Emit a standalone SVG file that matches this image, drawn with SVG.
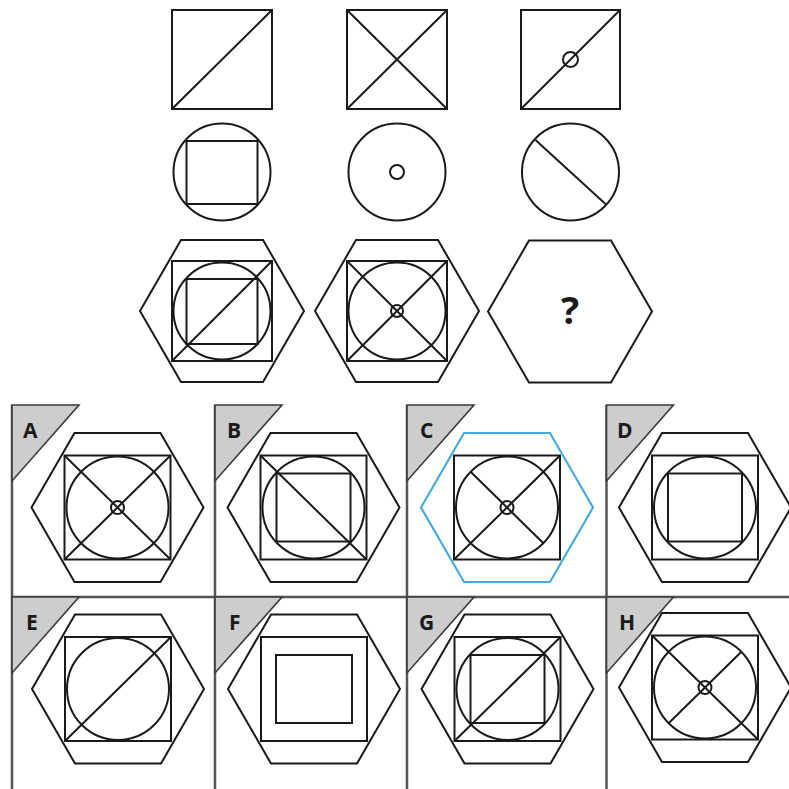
<svg xmlns="http://www.w3.org/2000/svg" width="789" height="789" viewBox="0 0 789 789">
<style>
.s{fill:none;stroke:#1a1a1a;stroke-width:2;stroke-linejoin:miter}
.hc{fill:none;stroke:#45acd8;stroke-width:2.2}
.grid{fill:none;stroke:#555;stroke-width:2.5}
.tri{fill:#cdcdcd;stroke:#3a3a3a;stroke-width:1.6;stroke-linejoin:miter}
.lbl{font-family:"Open Sans","Liberation Sans",sans-serif;font-weight:700;font-size:21px;fill:#1a1a1a}
.q{font-family:"Open Sans","Liberation Sans",sans-serif;font-weight:700;font-size:38px;fill:#1a1a1a}
</style>
<defs>
<polygon id="hexS" points="-82,0 -41,-71 41,-71 82,0 41,71 -41,71"/>
<polygon id="hexA" points="-86,0 -43,-74.5 43,-74.5 86,0 43,74.5 -43,74.5"/>
<polygon id="triA" points="0,0 67,0 0,76"/>
</defs>
<rect width="789" height="789" fill="#fff"/>

<!-- Row 1 -->
<g id="r1c1" class="s" transform="translate(222,59.5)">
<rect x="-50" y="-49.5" width="100" height="99"/>
<line x1="-50" y1="49.5" x2="50" y2="-49.5"/>
</g>
<g id="r1c2" class="s" transform="translate(397,59.5)">
<rect x="-50" y="-49.5" width="100" height="99"/>
<line x1="-50" y1="49.5" x2="50" y2="-49.5"/>
<line x1="-50" y1="-49.5" x2="50" y2="49.5"/>
</g>
<g id="r1c3" class="s" transform="translate(570.5,59.5)">
<rect x="-49.5" y="-49.5" width="99" height="99"/>
<line x1="-49.5" y1="49.5" x2="49.5" y2="-49.5"/>
<circle r="7.5"/>
</g>

<!-- Row 2 -->
<g id="r2c1" class="s" transform="translate(222,172)">
<circle r="48.5"/>
<rect x="-35.5" y="-31" width="71" height="63"/>
</g>
<g id="r2c2" class="s" transform="translate(397,172)">
<circle r="48.5"/>
<circle r="7"/>
</g>
<g id="r2c3" class="s" transform="translate(570.5,172)">
<circle r="48.5"/>
<line x1="-35" y1="-32" x2="35" y2="32"/>
</g>

<!-- Row 3 -->
<g id="r3c1" class="s" transform="translate(222,311)">
<use href="#hexS"/>
<rect x="-50" y="-50" width="100" height="100"/>
<circle r="48.5"/>
<rect x="-35.5" y="-32" width="71" height="65"/>
<line x1="-50" y1="50" x2="50" y2="-50"/>
</g>
<g id="r3c2" class="s" transform="translate(397,311)">
<use href="#hexS"/>
<rect x="-50" y="-50" width="100" height="100"/>
<circle r="48.5"/>
<line x1="-50" y1="50" x2="50" y2="-50"/>
<line x1="-50" y1="-50" x2="50" y2="50"/>
<circle r="6"/>
</g>
<g id="r3c3" transform="translate(570,311.5)">
<use href="#hexS" class="s"/>
<text class="q" x="0" y="12.5" text-anchor="middle">?</text>
</g>

<!-- Answer grid -->
<g id="grid" class="grid">
<line x1="12" y1="405" x2="12" y2="789"/>
<line x1="215" y1="405" x2="215" y2="789"/>
<line x1="407" y1="405" x2="407" y2="789"/>
<line x1="606.5" y1="405" x2="606.5" y2="789"/>
<line x1="12" y1="597" x2="789" y2="597"/>
</g>

<g id="labels">
<use href="#triA" class="tri" x="12" y="405"/>
<use href="#triA" class="tri" x="215" y="405"/>
<use href="#triA" class="tri" x="407" y="405"/>
<use href="#triA" class="tri" x="606.5" y="405"/>
<use href="#triA" class="tri" x="12" y="597"/>
<use href="#triA" class="tri" x="215" y="597"/>
<use href="#triA" class="tri" x="407" y="597"/>
<use href="#triA" class="tri" x="606.5" y="597"/>
<text class="lbl" x="23" y="438">A</text>
<text class="lbl" x="227" y="438">B</text>
<text class="lbl" x="420" y="438">C</text>
<text class="lbl" x="617" y="438">D</text>
<text class="lbl" x="26" y="630">E</text>
<text class="lbl" x="229" y="630">F</text>
<text class="lbl" x="419" y="630">G</text>
<text class="lbl" x="619" y="630">H</text>
</g>

<g id="optA" class="s" transform="translate(117.5,507.5)">
<use href="#hexA"/>
<rect x="-53" y="-52" width="106" height="104"/>
<circle r="51"/>
<line x1="-53" y1="52" x2="53" y2="-52"/>
<line x1="-53" y1="-52" x2="53" y2="52"/>
<circle r="6.5"/>
</g>
<g id="optB" class="s" transform="translate(313.5,507.5)">
<use href="#hexA"/>
<rect x="-53" y="-52" width="106" height="104"/>
<circle r="51"/>
<rect x="-37" y="-34" width="74" height="68"/>
<line x1="-53" y1="-52" x2="53" y2="52"/>
</g>
<g id="optC" transform="translate(507,507.5)">
<use href="#hexA" class="hc"/>
<g class="s">
<rect x="-53" y="-52" width="106" height="104"/>
<circle r="51"/>
<line x1="-53" y1="52" x2="53" y2="-52"/>
<line x1="-36.4" y1="-35.7" x2="36.4" y2="35.7"/>
<circle r="6.5"/>
</g>
</g>
<g id="optD" class="s" transform="translate(705,507.5)">
<use href="#hexA"/>
<rect x="-53" y="-52" width="106" height="104"/>
<circle r="51"/>
<rect x="-37" y="-34" width="74" height="68"/>
</g>
<g id="optE" class="s" transform="translate(118,689)">
<use href="#hexA"/>
<rect x="-53" y="-52" width="106" height="104"/>
<circle r="51"/>
<line x1="-53" y1="52" x2="53" y2="-52"/>
</g>
<g id="optF" class="s" transform="translate(314,689)">
<use href="#hexA"/>
<rect x="-53" y="-52" width="106" height="104"/>
<rect x="-38" y="-34" width="76" height="68"/>
</g>
<g id="optG" class="s" transform="translate(507.5,689)">
<use href="#hexA"/>
<rect x="-53" y="-52" width="106" height="104"/>
<circle r="51"/>
<rect x="-37" y="-34" width="74" height="68"/>
<line x1="-53" y1="52" x2="53" y2="-52"/>
</g>
<g id="optH" class="s" transform="translate(705,687.5)">
<use href="#hexA"/>
<rect x="-53" y="-52" width="106" height="104"/>
<circle r="51"/>
<line x1="-36.4" y1="35.7" x2="36.4" y2="-35.7"/>
<line x1="-53" y1="-52" x2="53" y2="52"/>
<circle r="6.5"/>
</g>
</svg>
